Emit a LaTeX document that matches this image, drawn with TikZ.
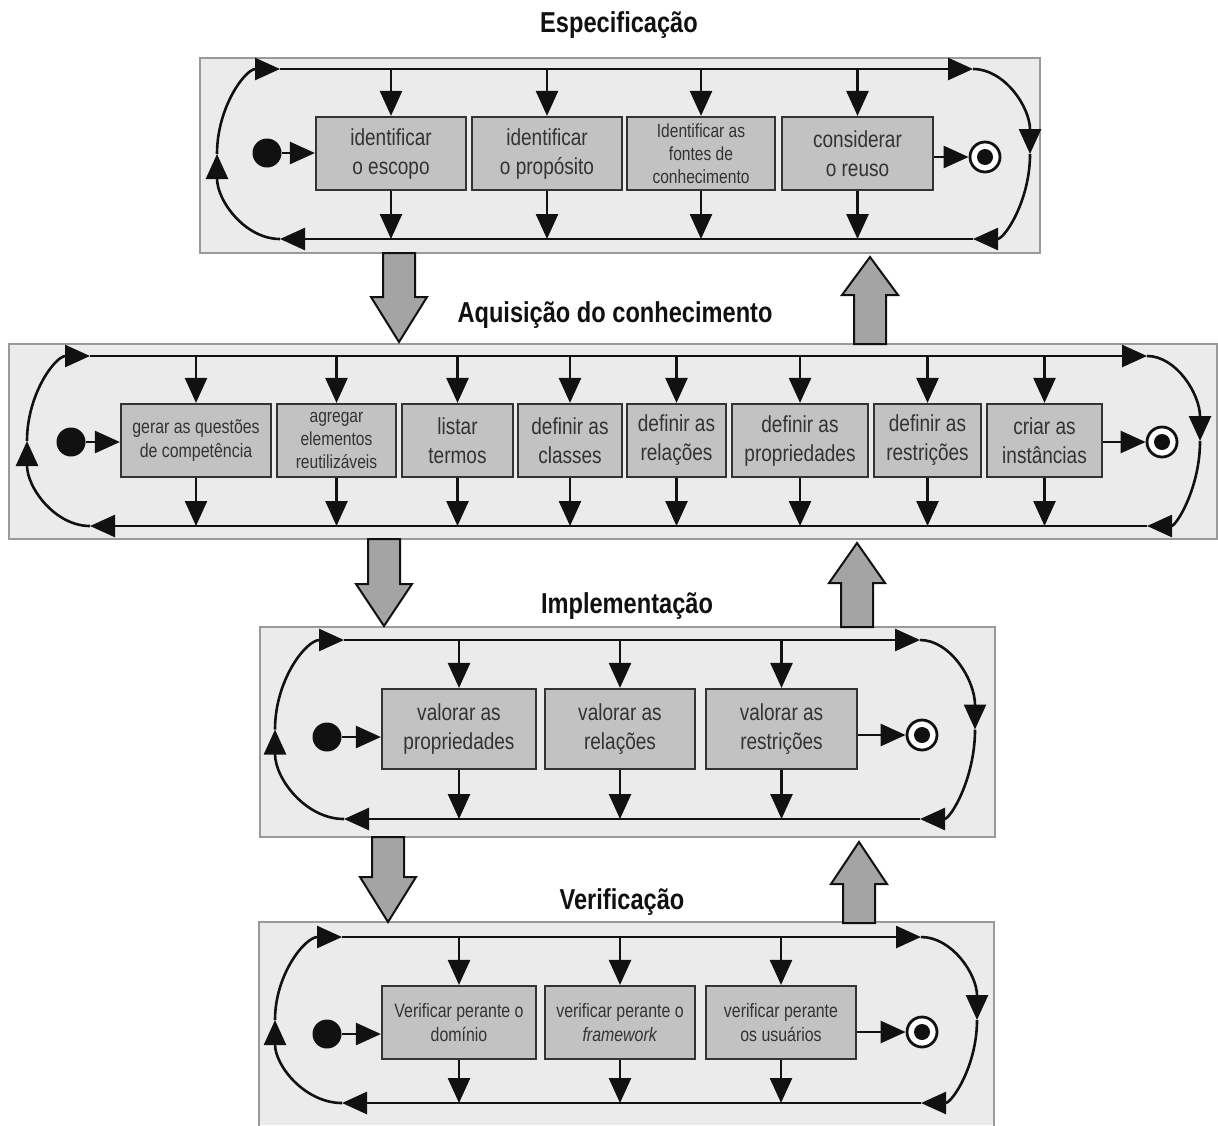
\documentclass[tikz,border=0pt]{standalone}
\usepackage{fontspec}
\setmainfont{Liberation Sans}[FakeStretch=0.82]
\usetikzlibrary{arrows.meta}

\definecolor{panelfill}{HTML}{EBEBEB}
\definecolor{panelline}{HTML}{9A9A9A}
\definecolor{taskfill}{HTML}{C2C2C2}
\definecolor{taskline}{HTML}{333333}
\definecolor{inktext}{HTML}{333333}
\definecolor{bigfill}{HTML}{A4A4A4}
\definecolor{ink}{HTML}{111111}

% rectangular node given by its corners (x1,y1) (x2,y2)
\newcommand\rectnode[7][]{%
  \pgfmathsetmacro\rnW{(#5-#3)*0.5}%
  \pgfmathsetmacro\rnH{(#6-#4)*0.5}%
  \pgfmathsetmacro\rnX{(#3+#5)/2}%
  \pgfmathsetmacro\rnY{(#4+#6)/2}%
  \node[#1, minimum width=\rnW pt, minimum height=\rnH pt] (#2) at (\rnX,\rnY) {#7};}

% the circulating loop of a phase: ytop ybot cxL rL cxR rR tag
\newcommand\phaseloop[7]{%
  \pgfmathsetmacro\clH{(#2-#1)/2}%
  \pgfmathsetmacro\clM{(#1+#2)/2}%
  \coordinate (#7tl) at (#3,#1);
  \coordinate (#7tr) at (#5,#1);
  \coordinate (#7br) at (#5,#2);
  \coordinate (#7bl) at (#3,#2);
  \draw[flow] (#7tl) -- (#7tr);
  \draw[flow] (#7tr) arc[start angle=-90, end angle=0, x radius=#6, y radius=\clH];
  \draw[flow] ({#5+#6},\clM) arc[start angle=0, end angle=90, x radius=#6, y radius=\clH];
  \draw[flow] (#7br) -- (#7bl);
  \draw[flow] (#7bl) arc[start angle=90, end angle=180, x radius=#4, y radius=\clH];
  \draw[flow] ({#3-#4},\clM) arc[start angle=180, end angle=270, x radius=#4, y radius=\clH];}

% wide hollow arrow between phases: x, tail y, head base y, tip y
\newcommand\bigarrow[4]{%
  \draw[bigarrowstyle] ({#1-16},#2) -- ({#1-16},#3) -- ({#1-28},#3) -- (#1,#4)
    -- ({#1+28},#3) -- ({#1+16},#3) -- ({#1+16},#2) -- cycle;}

\tikzset{
  panel/.style={draw=panelline, fill=panelfill, line width=0.9pt, inner sep=0},
  task/.style={draw=taskline, fill=taskfill, line width=1.1pt, inner sep=0,
    text=inktext, align=center, font=\fontsize{11.6pt}{14.5pt}\selectfont},
  smalltask/.style={task, font=\fontsize{9.7pt}{12pt}\selectfont},
  tinytask/.style={task, font=\fontsize{9.5pt}{11.6pt}\selectfont},
  flow/.style={draw=ink, line width=1.3pt, -{Triangle[length=12.5pt,width=11pt]}},
  startdot/.style={circle, fill=ink, minimum size=14.5pt, inner sep=0},
  endring/.style={circle, draw=ink, fill=white, line width=1.4pt, minimum size=15pt, inner sep=0},
  title/.style={font=\bfseries\fontsize{14.4pt}{17pt}\selectfont, text=ink},
  bigarrowstyle/.style={draw=ink, fill=bigfill, line width=1pt, line join=miter}
}

\begin{document}
\begin{tikzpicture}[x=0.5pt, y=-0.5pt]
\useasboundingbox (0,0) rectangle (1218,1125);

% ---------- phase panels ----------
\rectnode[panel]{P1}{200}{58}{1040}{253}{}
\rectnode[panel]{P2}{9}{344}{1217}{539}{}
\rectnode[panel]{P3}{260}{627}{995}{837}{}
\rectnode[panel, draw=none]{P4}{260}{923}{993}{1125}{}
\draw[panelline, line width=0.9pt] (P4.south west) -- (P4.north west) -- (P4.north east) -- (P4.south east);

% ---------- titles ----------
\node[title] (t1) at (619,25) {Especificação};
\node[title] (t2) at (615,315) {Aquisição do conhecimento};
\node[title] (t3) at (627,606) {Implementação};
\node[title] (t4) at (622,902) {Verificação};

% ---------- transitions between phases ----------
\bigarrow{399}{253}{297}{342}
\bigarrow{870}{344}{295}{257}
\bigarrow{384}{539}{584}{626}
\bigarrow{857}{627}{583}{543}
\bigarrow{388}{837}{877}{922}
\bigarrow{859}{923}{884}{842}

% ---------- Especificação ----------
\phaseloop{69}{239}{280}{63}{973}{57}{c1}
\rectnode[task]{b11}{316}{117}{466}{190}{identificar\\o escopo}
\rectnode[task]{b12}{472}{117}{622}{190}{identificar\\o propósito}
\rectnode[tinytask]{b13}{627}{117}{775}{190}{Identificar as\\fontes de\\conhecimento}
\rectnode[task]{b14}{782}{117}{933}{190}{considerar\\o reuso}
\foreach \b in {b11,b12,b13,b14}{
  \draw[flow] (\b.north |- c1tl) -- (\b.north);
  \draw[flow] (\b.south) -- (\b.south |- c1bl);}
\node[startdot] (s1) at (267,153) {};
\node[endring] (e1) at (985,157) {};
\fill[ink] (e1.center) circle[radius=4pt];
\draw[flow] (s1.east) -- (s1.east -| b11.west);
\draw[flow] (e1 -| b14.east) -- (e1.west);

% ---------- Aquisição do conhecimento ----------
\phaseloop{356}{526}{90}{63}{1147}{53}{c2}
\rectnode[smalltask]{b21}{121}{404}{271}{477}{gerar as questões\\de competência}
\rectnode[tinytask]{b22}{277}{404}{396}{477}{agregar\\elementos\\reutilizáveis}
\rectnode[task]{b23}{402}{404}{513}{477}{listar\\termos}
\rectnode[task]{b24}{518}{404}{622}{477}{definir as\\classes}
\rectnode[task]{b25}{627}{404}{726}{477}{definir as\\relações}
\rectnode[task]{b26}{732}{404}{868}{477}{definir as\\propriedades}
\rectnode[task]{b27}{874}{404}{981}{477}{definir as\\restrições}
\rectnode[task]{b28}{987}{404}{1102}{477}{criar as\\instâncias}
\foreach \b in {b21,b22,b23,b24,b25,b26,b27,b28}{
  \draw[flow] (\b.north |- c2tl) -- (\b.north);
  \draw[flow] (\b.south) -- (\b.south |- c2bl);}
\node[startdot] (s2) at (71,442) {};
\node[endring] (e2) at (1162,442) {};
\fill[ink] (e2.center) circle[radius=4pt];
\draw[flow] (s2.east) -- (s2.east -| b21.west);
\draw[flow] (e2 -| b28.east) -- (e2.west);

% ---------- Implementação ----------
\phaseloop{640}{819}{344}{69}{920}{55}{c3}
\rectnode[task]{b31}{382}{689}{536}{769}{valorar as\\propriedades}
\rectnode[task]{b32}{545}{689}{695}{769}{valorar as\\relações}
\rectnode[task]{b33}{706}{689}{857}{769}{valorar as\\restrições}
\foreach \b in {b31,b32,b33}{
  \draw[flow] (\b.north |- c3tl) -- (\b.north);
  \draw[flow] (\b.south) -- (\b.south |- c3bl);}
\node[startdot] (s3) at (327,737) {};
\node[endring] (e3) at (922,735) {};
\fill[ink] (e3.center) circle[radius=4pt];
\draw[flow] (s3.east) -- (s3.east -| b31.west);
\draw[flow] (e3 -| b33.east) -- (e3.west);

% ---------- Verificação ----------
\phaseloop{937}{1103}{342}{67}{921}{56}{c4}
\rectnode[smalltask]{b41}{382}{986}{536}{1059}{Verificar perante o\\domínio}
\rectnode[smalltask]{b42}{545}{986}{695}{1059}{verificar perante o\\\textit{framework}}
\rectnode[smalltask]{b43}{706}{986}{856}{1059}{verificar perante\\os usuários}
\foreach \b in {b41,b42,b43}{
  \draw[flow] (\b.north |- c4tl) -- (\b.north);
  \draw[flow] (\b.south) -- (\b.south |- c4bl);}
\node[startdot] (s4) at (327,1034) {};
\node[endring] (e4) at (922,1032) {};
\fill[ink] (e4.center) circle[radius=4pt];
\draw[flow] (s4.east) -- (s4.east -| b41.west);
\draw[flow] (e4 -| b43.east) -- (e4.west);
\end{tikzpicture}
\end{document}
